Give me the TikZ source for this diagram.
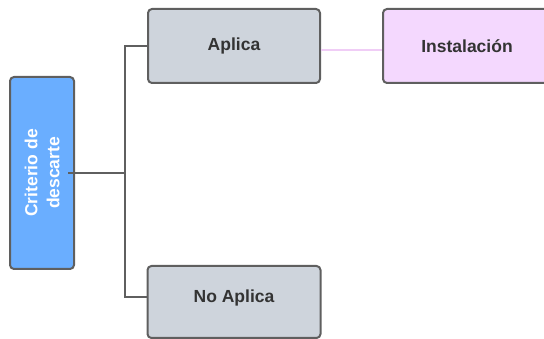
\documentclass[tikz,border=0pt]{standalone}
\usepackage{fontspec}
\setmainfont{Liberation Sans}
\definecolor{critblue}{HTML}{6AAEFF}
\definecolor{boxgray}{HTML}{CED4DC}
\definecolor{boxpink}{HTML}{F4D8FE}
\definecolor{edgegray}{HTML}{5F5F5F}
\definecolor{txtdark}{HTML}{333333}
\definecolor{linkpink}{HTML}{F0CDF6}
\begin{document}
\begin{tikzpicture}[x=1pt,y=-1pt,
  boxbase/.style={draw=edgegray,line width=2pt,rounded corners=4pt,inner sep=0pt,
    font=\fontsize{17.5}{21}\selectfont\bfseries},
  graybox/.style={boxbase,fill=boxgray,text=txtdark},
  conn/.style={draw=edgegray,line width=2pt}]
\useasboundingbox (0,0) rectangle (544,339);
\node[boxbase,fill=critblue,text=white,minimum width=64pt,minimum height=192pt] (crit) at (42,173) {};
\node[rotate=90,text=white,align=center,font=\fontsize{17.5}{22}\selectfont\bfseries] (crittxt) at (crit.center) {Criterio de\\descarte};
\node[graybox,minimum width=172pt,minimum height=74pt] (apl) at (234,46) {Aplica};
\node[boxbase,fill=boxpink,text=txtdark,minimum width=172pt,minimum height=74pt,anchor=west] (inst) at (382,46) {};
\node[text=txtdark,font=\fontsize{17.5}{21}\selectfont\bfseries] (insttxt) at (467,46) {Instalación};
\node[graybox,minimum width=173pt,minimum height=72pt,anchor=north] (noapl) at (234,265) {};
\node[text=txtdark,font=\fontsize{17.5}{21}\selectfont\bfseries] (noapltxt) at (234,298) {No Aplica};
\coordinate (trunk) at (125,173);
\draw[conn] ([xshift=-7pt]crit.east) -- (trunk);
\draw[conn] (apl.west) -| (trunk) |- ([yshift=5pt]noapl.west);
\draw[draw=linkpink,line width=2pt] ([yshift=-4pt]apl.east) -- ([yshift=-4pt]inst.west);
\end{tikzpicture}
\end{document}
